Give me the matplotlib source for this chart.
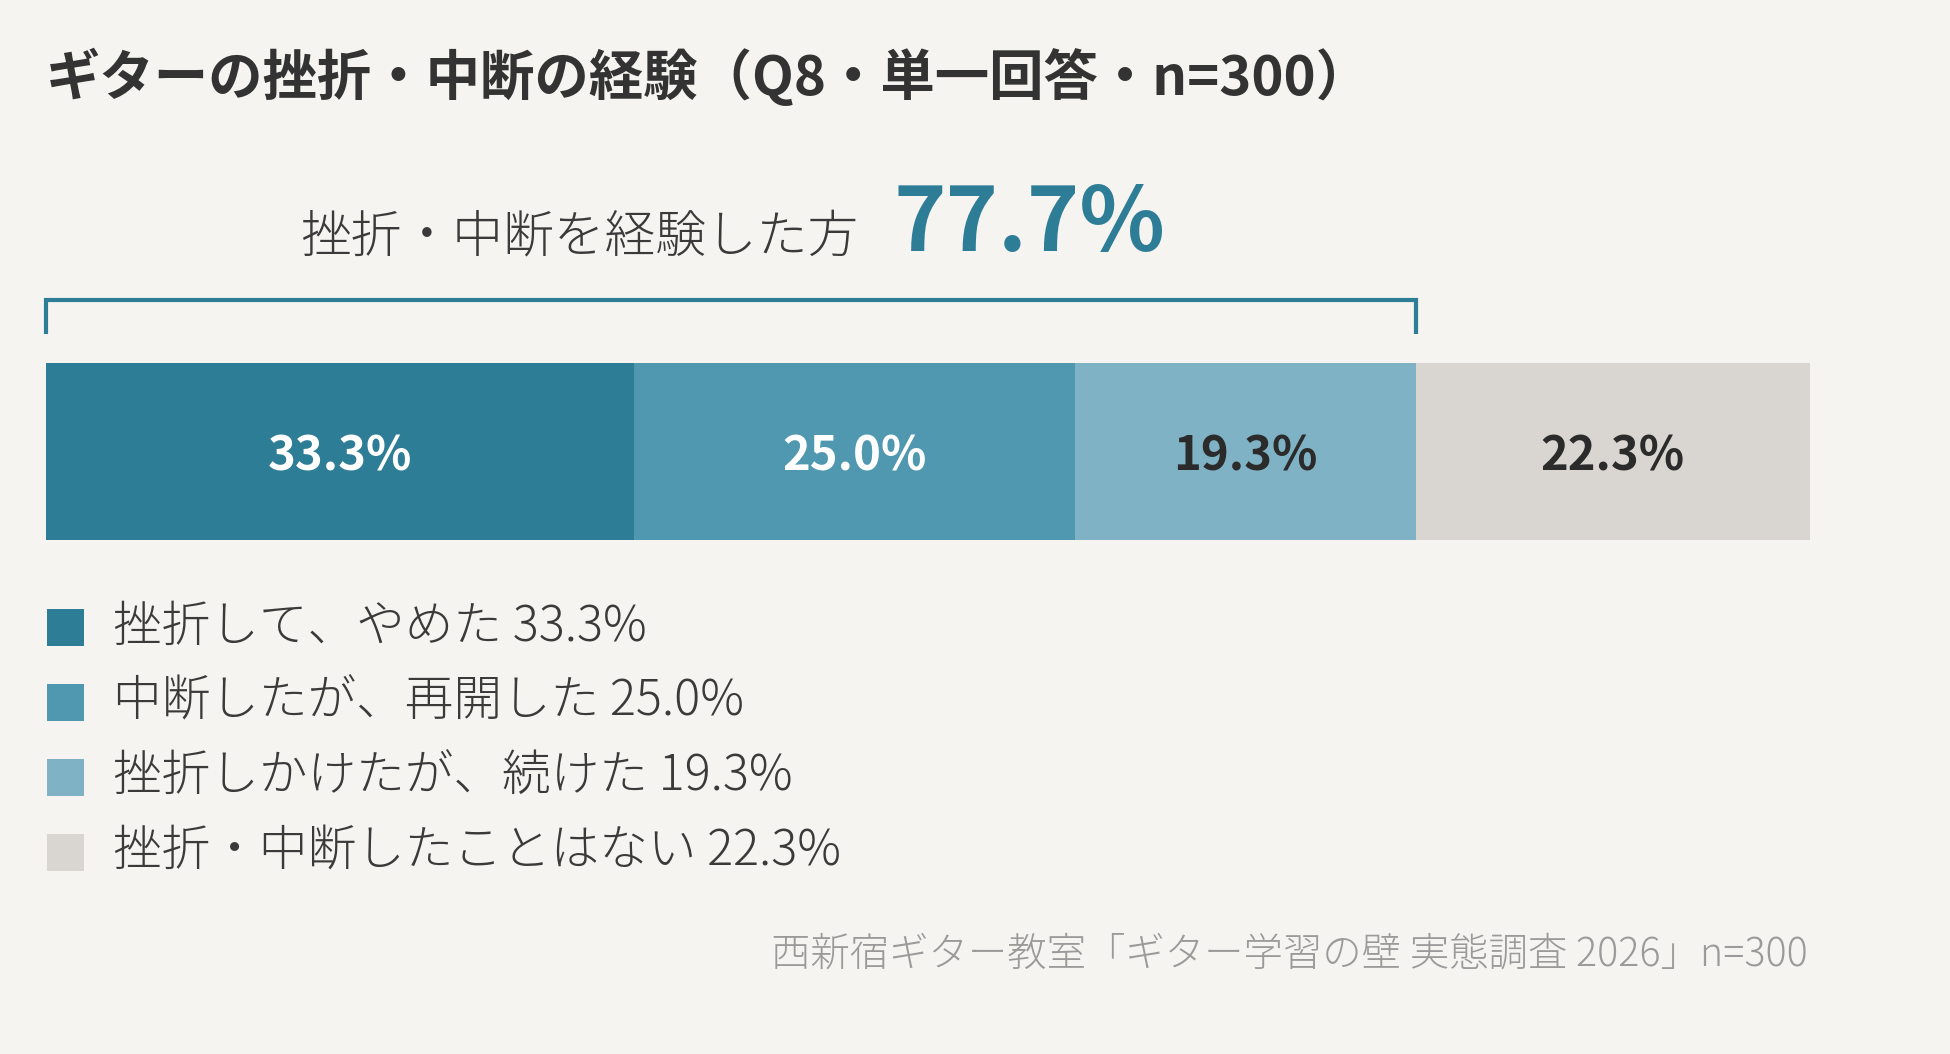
import matplotlib
matplotlib.use("Agg")
import matplotlib.pyplot as plt
from matplotlib.patches import Rectangle
import matplotlib.transforms as mtransforms

plt.rcParams['font.family'] = ['Noto Sans CJK JP', 'DejaVu Sans']

# ---- data ----
title = "ギターの挫折・中断の経験（Q8・単一回答・n=300）"
headline_label = "挫折・中断を経験した方"
headline_value = "77.7%"
categories = ["挫折して、やめた", "中断したが、再開した", "挫折しかけたが、続けた", "挫折・中断したことはない"]
values = [33.3, 25.0, 19.3, 22.3]
colors = ["#2e7d96", "#5098b0", "#80b2c5", "#d9d6d1"]
label_colors = ["white", "white", "#2b2b2b", "#2b2b2b"]
bracket_n = 3  # first three segments = experienced setback/interruption
source = "西新宿ギター教室「ギター学習の壁 実態調査 2026」n=300"

W, H = 1950, 1054
BG = "#f5f4f1"
fig = plt.figure(figsize=(W / 100, H / 100), dpi=100, facecolor=BG)

def fx(px):
    return px / W

def fy(py):
    return 1 - py / H

# ---- bar axes ----
bar_left, bar_right, bar_top, bar_bot = 46, 1809.5, 363, 540
ax = fig.add_axes([fx(bar_left), fy(bar_bot), fx(bar_right - bar_left), (bar_bot - bar_top) / H])
ax.set_facecolor(BG)
left = 0.0
for v, c, lc in zip(values, colors, label_colors):
    ax.barh(0, v, left=left, height=1.0, color=c, edgecolor="none")
    ax.text(left + v / 2, -0.03, f"{v:.1f}%", ha="center", va="center",
            fontsize=34, fontweight="bold", color=lc)
    left += v
ax.set_xlim(0, sum(values))
ax.set_ylim(-0.5, 0.5)
ax.axis("off")

# ---- bracket over first three segments ----
trans = mtransforms.blended_transform_factory(ax.transData, fig.transFigure)
bx1 = sum(values[:bracket_n])
ax.plot([0, 0, bx1, bx1], [fy(334), fy(300), fy(300), fy(334)], transform=trans,
        color="#2e7d96", lw=3, clip_on=False, solid_joinstyle="miter", solid_capstyle="butt")

# ---- title and headline ----
fig.text(fx(46), fy(78), title, ha="left", va="center", fontsize=39.2,
         fontweight="bold", color="#333333")
fig.text(fx(858), fy(237), headline_label, ha="right", va="center",
         fontsize=36.5, fontweight="light", color="#3a3a3a")
fig.text(fx(893), fy(225), headline_value, ha="left", va="center", fontsize=64,
         fontweight="bold", color="#2e7d96")

# ---- legend ----
row_y = [627, 702, 777, 852]
sq = 37
for cat, v, c, yy in zip(categories, values, colors, row_y):
    fig.patches.append(Rectangle((fx(47), fy(yy + sq / 2)), fx(sq), sq / H,
                                 transform=fig.transFigure, facecolor=c, edgecolor="none"))
    fig.text(fx(113), fy(yy), f"{cat} {v:.1f}%", ha="left", va="center",
             fontsize=35, fontweight="light", color="#3a3a3a")

# ---- source ----
fig.text(fx(1808), fy(955), source, ha="right", va="center", fontsize=28.4,
         fontweight="light", color="#9a9a9a")

fig.savefig("out.png", dpi=100, facecolor=BG)
